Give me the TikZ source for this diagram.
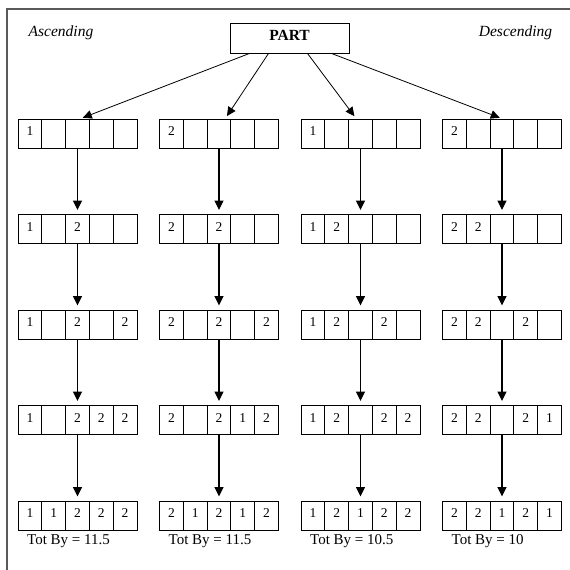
\documentclass[tikz,border=0pt]{standalone}
\usepackage{fontspec}
\setmainfont{Liberation Serif}
\usetikzlibrary{arrows.meta,positioning}
\tikzset{
  cellbox/.style={draw, line width=0.9pt, minimum width=23.8pt, minimum height=29pt,
                  inner sep=0pt, outer sep=0pt, font=\fontsize{13.5}{15}\selectfont},
  partbox/.style={draw, line width=0.9pt, minimum width=119pt, minimum height=30pt,
                  inner sep=0pt, font=\fontsize{15.5}{17}\selectfont\bfseries},
  sidelbl/.style={font=\fontsize{15.5}{17}\selectfont\itshape},
  totlbl/.style={anchor=base west, inner sep=0pt, font=\fontsize{15}{17}\selectfont},
  framel/.style={line width=2.2pt, color=black!65},
  arr/.style={-{Triangle[length=9.5pt,width=9pt]}, line width=1.1pt, shorten >=4.5pt},
  darr/.style={-{Triangle[length=9pt,width=8.5pt]}, line width=0.8pt, shorten >=3.5pt}}
\newcommand{\celltxt}[1]{\if#1-\else\raisebox{4pt}{#1}\fi}
% one row of five cells, named #1-1 ... #1-5, middle cell at (#2,#3)
\newcommand{\cellrow}[4]{%
  \foreach \d [count=\k] in {#4}
    \node[cellbox] (#1-\k) at ({#2+(\k-3)*23.8},#3) {\celltxt{\d}};}
\begin{document}
\begin{tikzpicture}[x=1pt, y=-1pt]
  \useasboundingbox (0,0) rectangle (570,570);
  \draw[framel] (7,572) -- (7,9) -- (572,9);

  \node[sidelbl] (asc) at (61,33) {Ascending};
  \node[sidelbl] (desc) at (515.5,33) {Descending};
  \node[partbox] (part) at (289.5,38) {\raisebox{6pt}{PART}};

  % column 1
  \cellrow{p11}{77.5}{133.5}{1,-,-,-,-}
  \cellrow{p12}{77.5}{229}{1,-,2,-,-}
  \cellrow{p13}{77.5}{324.5}{1,-,2,-,2}
  \cellrow{p14}{77.5}{420}{1,-,2,2,2}
  \cellrow{p15}{77.5}{515.5}{1,1,2,2,2}
  % column 2
  \cellrow{p21}{219}{133.5}{2,-,-,-,-}
  \cellrow{p22}{219}{229}{2,-,2,-,-}
  \cellrow{p23}{219}{324.5}{2,-,2,-,2}
  \cellrow{p24}{219}{420}{2,-,2,1,2}
  \cellrow{p25}{219}{515.5}{2,1,2,1,2}
  % column 3
  \cellrow{p31}{360.5}{133.5}{1,-,-,-,-}
  \cellrow{p32}{360.5}{229}{1,2,-,-,-}
  \cellrow{p33}{360.5}{324.5}{1,2,-,2,-}
  \cellrow{p34}{360.5}{420}{1,2,-,2,2}
  \cellrow{p35}{360.5}{515.5}{1,2,1,2,2}
  % column 4
  \cellrow{p41}{502}{133.5}{2,-,-,-,-}
  \cellrow{p42}{502}{229}{2,2,-,-,-}
  \cellrow{p43}{502}{324.5}{2,2,-,2,-}
  \cellrow{p44}{502}{420}{2,2,-,2,1}
  \cellrow{p45}{502}{515.5}{2,2,1,2,1}

  \draw[darr] ([xshift=-40pt]part.south) -- ([xshift=2pt]p11-3.north);
  \draw[darr] ([xshift=-21pt]part.south) -- ([xshift=6pt]p21-3.north);
  \draw[darr] ([xshift=18pt]part.south) -- ([xshift=-4pt]p31-3.north);
  \draw[darr] ([xshift=42pt]part.south) -- ([xshift=1pt]p41-3.north);

  \foreach \c in {1,...,4}
    \foreach \r in {1,...,4} {
      \pgfmathtruncatemacro{\nxt}{\r+1}
      \draw[arr] (p\c\r-3.south) -- (p\c\nxt-3.north);
    }

  \node[totlbl] (tot1) at ([xshift=9pt, yshift=-14pt]p15-1.south west) {Tot By = 11.5};
  \node[totlbl] (tot2) at ([xshift=9pt, yshift=-14pt]p25-1.south west) {Tot By = 11.5};
  \node[totlbl] (tot3) at ([xshift=9pt, yshift=-14pt]p35-1.south west) {Tot By = 10.5};
  \node[totlbl] (tot4) at ([xshift=9pt, yshift=-14pt]p45-1.south west) {Tot By = 10};
\end{tikzpicture}
\end{document}
